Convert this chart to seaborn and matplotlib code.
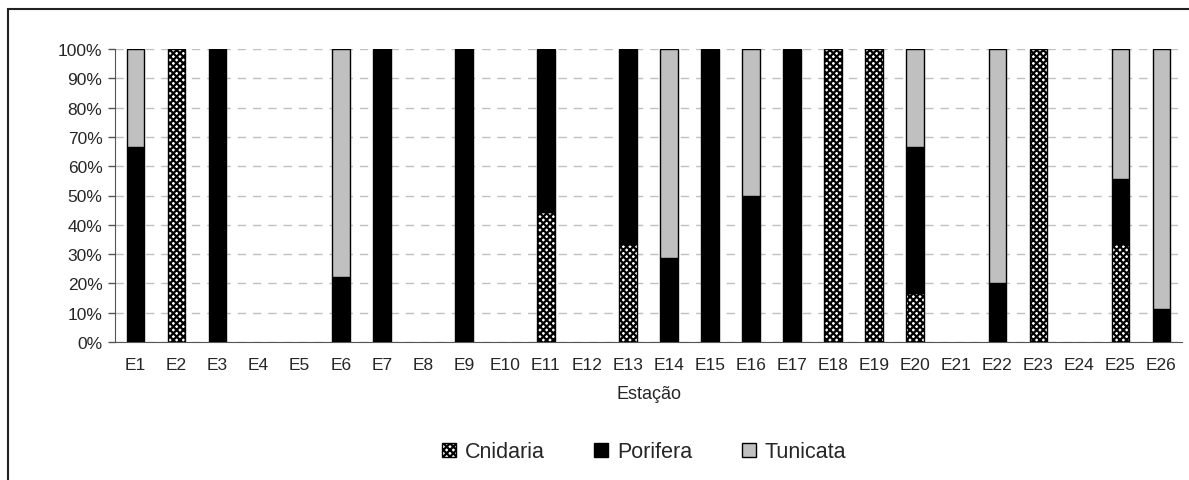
import numpy as np
import pandas as pd
import matplotlib.pyplot as plt
import seaborn as sns
from matplotlib.patches import Patch, Rectangle

sns.set_style("white")
plt.rcParams['font.family'] = ['Liberation Sans', 'DejaVu Sans']
plt.rcParams['hatch.linewidth'] = 1.6

estacoes = [f"E{i}" for i in range(1, 27)]
cnidaria = [0, 100, 0, 0, 0, 0, 0, 0, 0, 0, 44.4, 0, 33.3, 0, 0, 0, 0, 100, 100, 16.7, 0, 0, 100, 0, 33.3, 0]
porifera = [66.7, 0, 100, 0, 0, 22.2, 100, 0, 100, 0, 55.6, 0, 66.7, 28.6, 100, 50, 100, 0, 0, 50, 0, 20, 0, 0, 22.2, 11.1]
tunicata = [33.3, 0, 0, 0, 0, 77.8, 0, 0, 0, 0, 0, 0, 0, 71.4, 0, 50, 0, 0, 0, 33.3, 0, 80, 0, 0, 44.4, 88.9]

df = pd.DataFrame({'Estacao': estacoes, 'Cnidaria': cnidaria,
                   'Porifera': porifera, 'Tunicata': tunicata})

fig = plt.figure(figsize=(11.89, 4.81), dpi=100)
ax = fig.add_axes([115 / 1189, 1 - 343 / 481, 1067 / 1189, 293 / 481])

# borda do gráfico (só topo e esquerda visíveis)
fig.patches.append(Rectangle((8 / 1189, -0.1), 1.2, 1 - 10 / 481 + 0.1,
                             transform=fig.transFigure, fill=False,
                             edgecolor='#222222', linewidth=1.5))

larg = 0.43
base_p = df['Cnidaria']
base_t = df['Cnidaria'] + df['Porifera']
sns.barplot(data=df, x='Estacao', y='Cnidaria', color='white', hatch='xxxxx',
            edgecolor='black', linewidth=1, width=larg, ax=ax, zorder=3)
sns.barplot(data=df, x='Estacao', y='Porifera', color='black',
            bottom=base_p, edgecolor='black', linewidth=1,
            width=larg, ax=ax, zorder=3)
sns.barplot(data=df, x='Estacao', y='Tunicata', color='#c0c0c0',
            bottom=base_t, edgecolor='black',
            linewidth=1, width=larg, ax=ax, zorder=3)

# barras de altura zero não devem aparecer
for p in ax.patches:
    if p.get_height() == 0:
        p.set_visible(False)

ax.set_ylim(0, 100)
ax.set_xlim(-0.5, len(estacoes) - 0.5)
ax.set_yticks(range(0, 101, 10))
ax.set_yticklabels([f"{v}%" for v in range(0, 101, 10)], fontsize=12.5)
ax.set_xticks(range(len(estacoes)))
ax.set_xticklabels(estacoes, fontsize=12.5)
ax.set_xticks(np.arange(-0.5, len(estacoes), 1), minor=True)
ax.tick_params(axis='x', which='major', length=0, pad=11)
ax.tick_params(axis='x', which='minor', length=5, width=1, color='#555555', direction='out')
ax.tick_params(axis='y', length=5, width=1, color='#555555', direction='out', left=True, pad=4)
ax.grid(axis='y', linestyle=(0, (6, 5)), color='#c0c0c0', linewidth=1, zorder=0)
ax.set_axisbelow(True)

for s in ['top', 'right']:
    ax.spines[s].set_visible(False)
ax.spines['left'].set_color('#555555')
ax.spines['bottom'].set_color('#555555')

ax.set_xlabel('Estação', fontsize=13, labelpad=9)
ax.set_ylabel('')

handles = [Patch(facecolor='white', edgecolor='black', hatch='xxxxx', label='Cnidaria'),
           Patch(facecolor='black', edgecolor='black', label='Porifera'),
           Patch(facecolor='#c0c0c0', edgecolor='black', label='Tunicata')]
fig.legend(handles=handles, loc='center', bbox_to_anchor=(644 / 1189, 1 - 453 / 481),
           ncol=3, frameon=False, fontsize=15.5, handlelength=0.65, handleheight=0.65,
           handletextpad=0.4, columnspacing=2.3)

fig.savefig('out.png', dpi=100)
